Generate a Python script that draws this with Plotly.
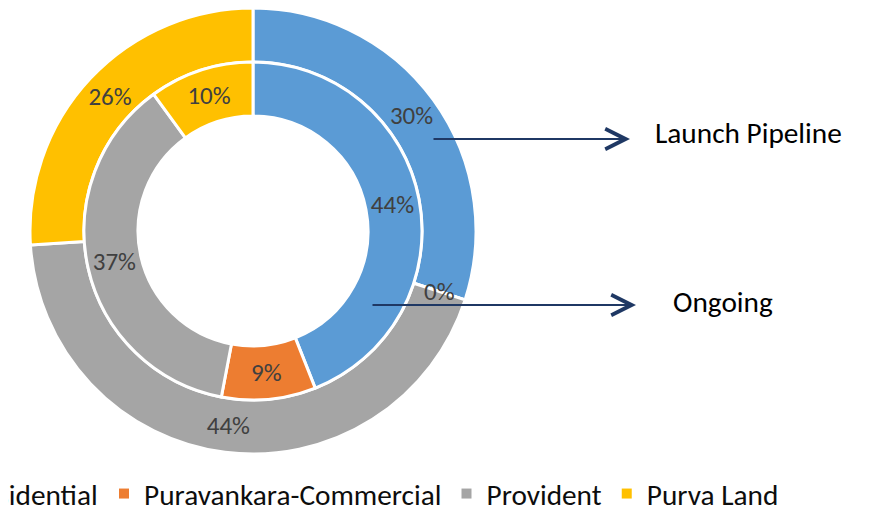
import math
import plotly.graph_objects as go

categories = ["Puravankara-Residential", "Puravankara-Commercial", "Provident", "Purva Land"]
launch_pipeline = [30, 0, 44, 26]   # outer ring (%)
ongoing = [44, 9, 37, 10]           # inner ring (%)
ring_names = ["Launch Pipeline", "Ongoing"]
colors = ["#5B9BD5", "#ED7D31", "#A5A5A5", "#FFC000"]

W, H = 872, 510
OFF = 8  # page body margin: figure starts 8px into the window
FONT = "Carlito, Lato, sans-serif"
FS_LABEL = 25
FS_TEXT = 29.3

def px_x(x):
    return min(max((x - OFF) / W, 0), 1)

def px_y(y):
    return min(max(1 - (y - OFF) / H, 0), 1)

cx, cy = 253, 231
r_out, r_in, r_hole = 223, 169, 115

def ring(name, vals, r_outer, r_inner):
    # a 0 % slice cannot hold its own label, so it is added as an annotation below
    return go.Pie(
        name=name, labels=categories, values=vals,
        text=[f"{v}%" if v > 0 else "" for v in vals], texttemplate="%{text}",
        sort=False, direction="clockwise", rotation=0,
        hole=r_inner / r_outer,
        marker=dict(colors=colors, line=dict(color="white", width=3)),
        textposition="inside", insidetextorientation="horizontal",
        textfont=dict(family=FONT, size=FS_LABEL, color="#404040"),
        domain=dict(x=[px_x(cx - r_outer), px_x(cx + r_outer)],
                    y=[px_y(cy + r_outer), px_y(cy - r_outer)]),
        showlegend=False, hoverinfo="label+percent+name",
    )

fig = go.Figure()
fig.add_trace(ring(ring_names[0], launch_pipeline, r_out, r_in))
fig.add_trace(ring(ring_names[1], ongoing, r_in, r_hole))

# legend entries (dummy traces so the first item can sit in its own, partly cropped legend)
for i, (cat, col) in enumerate(zip(categories, colors)):
    fig.add_trace(go.Scatter(
        x=[None], y=[None], mode="markers", name=cat,
        marker=dict(symbol="square", size=10, color=col),
        legend="legend2" if i == 0 else "legend",
        hoverinfo="skip",
    ))

annotations = []

# labels for zero-valued slices, placed at the slice's angle in the middle of its ring
for vals, ro, ri in [(launch_pipeline, r_out, r_in), (ongoing, r_in, r_hole)]:
    total = sum(vals)
    cum = 0
    for v in vals:
        if v == 0:
            ang = math.radians(cum / total * 360)
            rm = (ro + ri) / 2
            annotations.append(dict(
                x=px_x(cx + rm * math.sin(ang)), y=px_y(cy - rm * math.cos(ang)),
                xref="paper", yref="paper", text=f"{v}%", showarrow=False,
                xanchor="center", yanchor="middle",
                font=dict(family=FONT, size=FS_LABEL, color="#404040")))
        cum += v

def arrow(x0, x1, y):
    return dict(x=px_x(x1), y=px_y(y), xref="paper", yref="paper",
                ax=x0 - x1, ay=0, axref="pixel", ayref="pixel",
                text="", showarrow=True, arrowhead=5, arrowsize=2,
                arrowwidth=2, arrowcolor="#1F3864")

annotations += [
    arrow(432, 630, 139),
    arrow(371, 636, 305),
    dict(x=px_x(653), y=px_y(133), xref="paper", yref="paper", text=ring_names[0],
         showarrow=False, xanchor="left", yanchor="middle",
         font=dict(family=FONT, size=FS_TEXT, color="#000000")),
    dict(x=px_x(671), y=px_y(302), xref="paper", yref="paper", text=ring_names[1],
         showarrow=False, xanchor="left", yanchor="middle",
         font=dict(family=FONT, size=FS_TEXT, color="#000000")),
]

legend_font = dict(family=FONT, size=FS_TEXT, color="#0D0D0D")
fig.update_layout(
    width=W, height=H,
    margin=dict(l=0, r=0, t=0, b=0, autoexpand=False),
    paper_bgcolor="white", plot_bgcolor="white",
    xaxis=dict(visible=False), yaxis=dict(visible=False),
    annotations=annotations,
    uniformtext=dict(minsize=FS_LABEL, mode="show"),
    legend=dict(orientation="h", x=px_x(104), xanchor="left", y=px_y(494), yanchor="middle",
                font=legend_font, bgcolor="rgba(0,0,0,0)", itemclick=False, itemdoubleclick=False),
    legend2=dict(orientation="h", x=(103 - OFF) / W, xanchor="right", y=px_y(494), yanchor="middle",
                 font=legend_font, bgcolor="rgba(0,0,0,0)", itemclick=False, itemdoubleclick=False),
)

fig.write_html("out.html")
